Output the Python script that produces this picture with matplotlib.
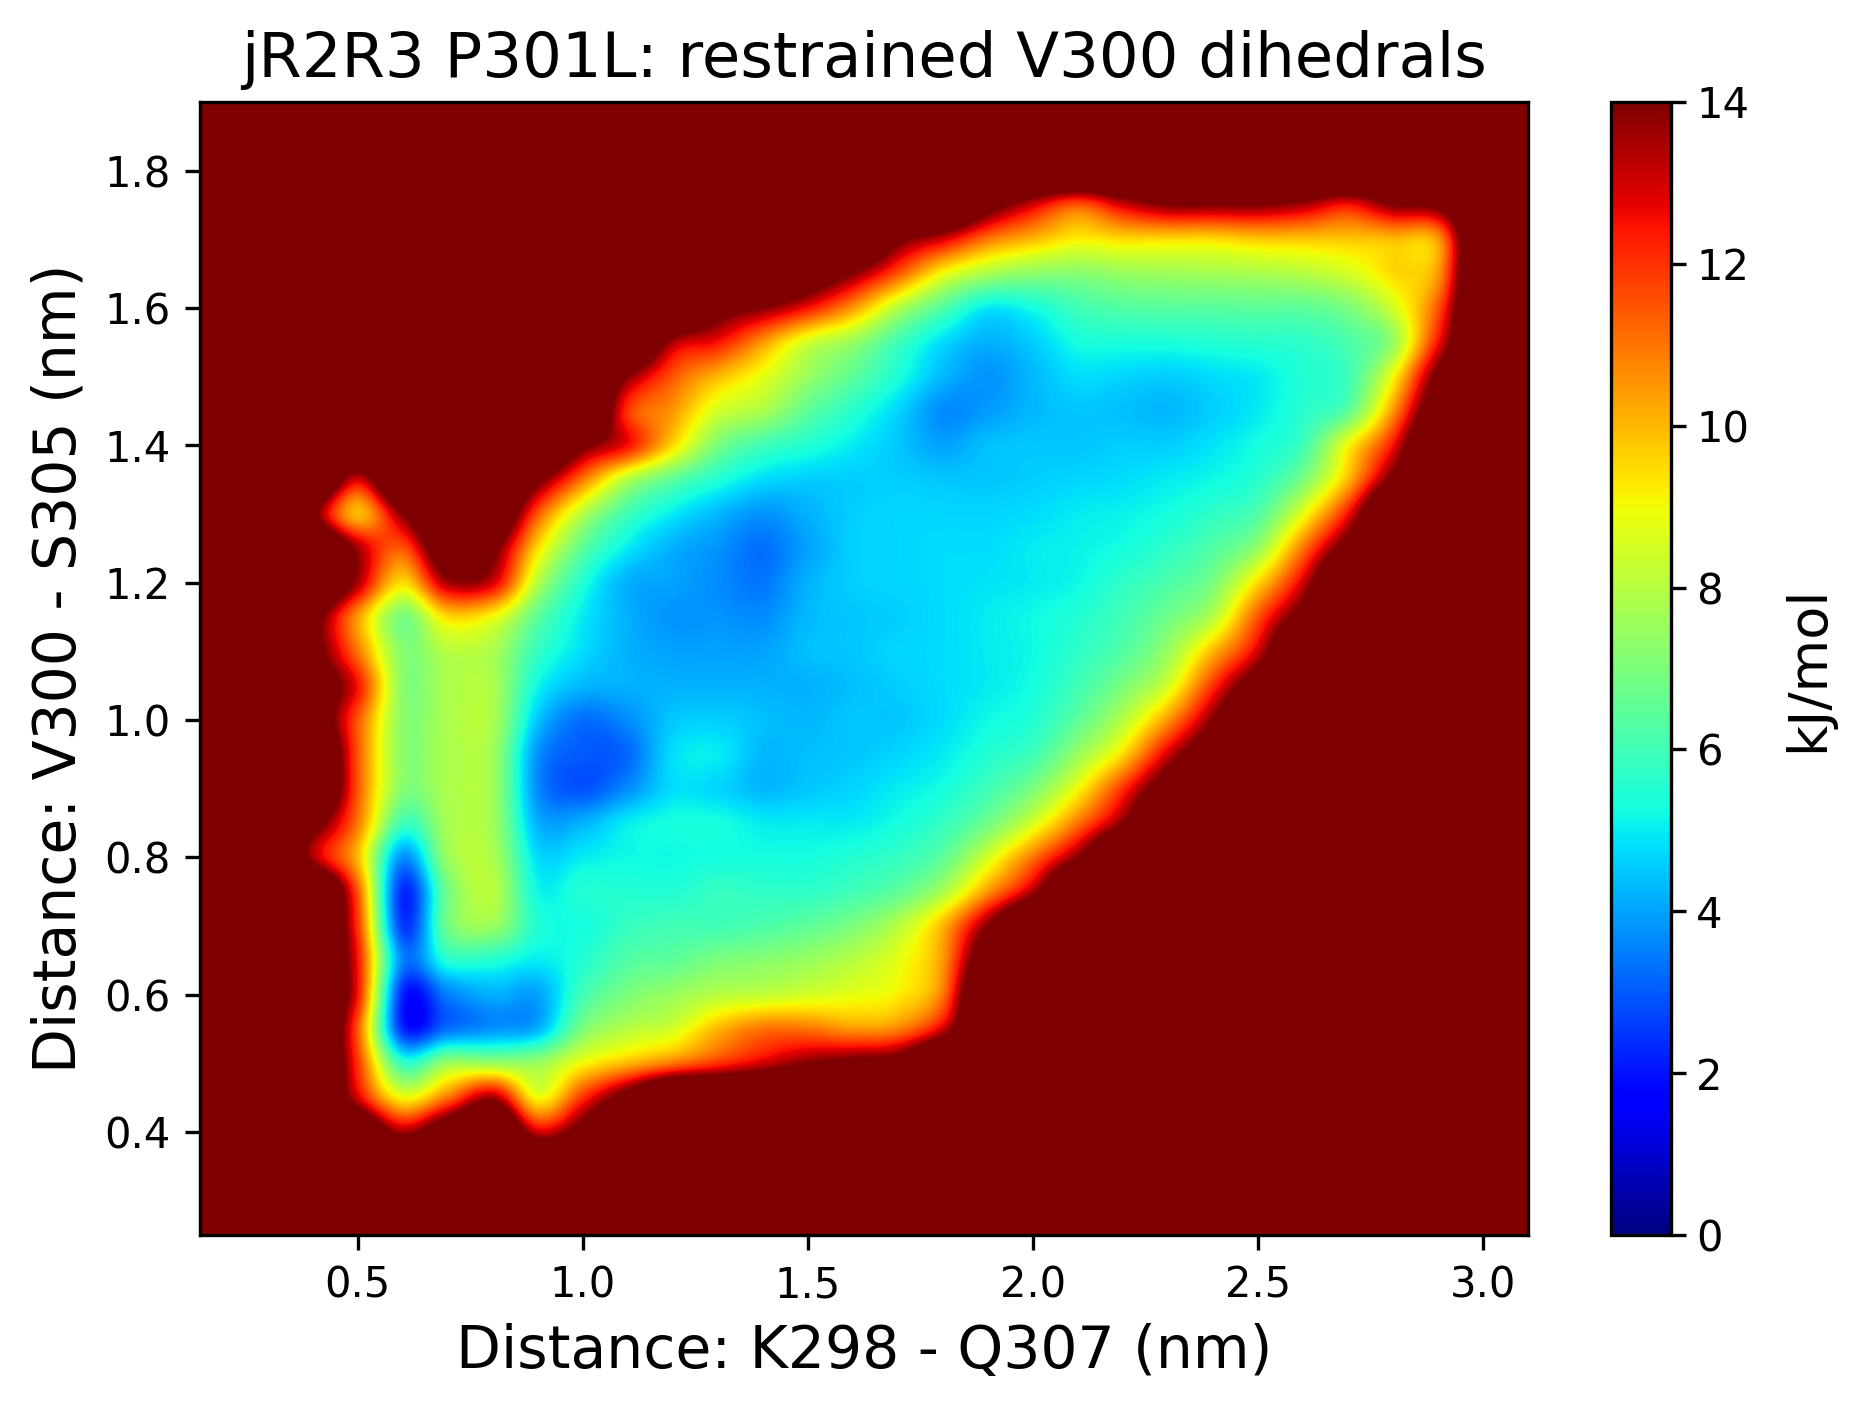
import numpy as np
import matplotlib
matplotlib.use("Agg")
import matplotlib.pyplot as plt

title = "jR2R3 P301L: restrained V300 dihedrals"
xlabel = "Distance: K298 - Q307 (nm)"
ylabel = "Distance: V300 - S305 (nm)"
cbar_label = "kJ/mol"
xticks = [0.5, 1.0, 1.5, 2.0, 2.5, 3.0]
yticks = [0.4, 0.6, 0.8, 1.0, 1.2, 1.4, 1.6, 1.8]
cticks = [0, 2, 4, 6, 8, 10, 12, 14]

X = 18  # unsampled
x_start, x_stop = 0.3, 3.0
y_start, y_stop = 0.35, 1.80
# columns x = 0.3 ... 3.0 (step 0.1); rows y = 0.35 ... 1.80 (step 0.05)
energy = [
[X,X,X,X,X,X,X,X,X,X,X,X,X,X,X,X,X,X,X,X,X,X,X,X,X,X,X,X],
[X,X,17,13.5,16,X,13,15,X,X,X,X,X,X,X,X,X,X,X,X,X,X,X,X,X,X,X,X],
[X,X,13,9,11,13.5,9,12,15,X,X,X,X,X,X,X,X,X,X,X,X,X,X,X,X,X,X,X],
[X,X,12,5.8,7.5,7.5,7.5,9,10,11,12,13,14,14.5,15,X,X,X,X,X,X,X,X,X,X,X,X,X],
[X,X,11.5,2.4,3.3,3.8,4.2,7,8,8.5,10,11,11,10.5,10.8,13,X,X,X,X,X,X,X,X,X,X,X,X],
[X,X,12.5,2.3,3.5,4.2,4,6,7,7.5,8,8.2,8.5,8.8,9.2,11,X,X,X,X,X,X,X,X,X,X,X,X],
[X,X,12.5,3.6,5.5,5.5,5,5.5,6.3,6.5,7,7.2,7.5,8,8.8,10.5,16,X,X,X,X,X,X,X,X,X,X,X],
[X,X,12,2.6,6.8,7.5,5.5,5.3,5.8,6,6,6.2,6.5,7,8,10,14,X,X,X,X,X,X,X,X,X,X,X],
[X,X,11.5,2.4,6.8,8,5.2,5.5,5.5,5.5,5.8,5.7,5.7,6,6.5,7.8,10.5,13.5,X,X,X,X,X,X,X,X,X,X],
[X,13.5,10,3.8,7.5,7.8,4.8,5,5.2,5.2,5.3,5.3,5.3,5.5,5.8,6.5,8.5,11,14,X,X,X,X,X,X,X,X,X],
[X,15,11,6,7.7,7.6,4.2,4.2,5,5.3,5.3,5,5,5,5.3,5.8,6.8,8.5,11,14,X,X,X,X,X,X,X,X],
[X,X,11.5,7.2,7.8,7.6,3.7,2.9,3.7,4.8,4.7,4.3,4.5,4.7,5,5.3,6,7,9,12,15.5,X,X,X,X,X,X,X],
[X,X,11.5,7.3,7.8,7.6,3.8,3,3.2,4.8,5,4.3,4.4,4.5,4.7,5,5.5,6,7.5,9.5,13,16,X,X,X,X,X,X],
[X,16,11.5,7.3,7.8,7.8,4.5,3.3,3.7,4.5,4.6,4.4,4.3,4.5,4.5,4.8,5.2,5.5,6.5,8,10.5,14,X,X,X,X,X,X],
[X,16,12.5,7.3,7.8,7.8,5.2,4.3,4.2,4.2,4.2,4.2,4.2,4.4,4.6,4.8,5,5.3,6,7,8.5,12,15.5,X,X,X,X,X],
[X,15,11,7.2,8,7.8,5.8,4.8,4.2,4,4,4,4.4,4.5,4.7,4.8,5,5.2,5.7,6.3,7.5,10,13,X,X,X,X,X],
[X,15,10.5,7,9.5,9,6.5,5,4.2,3.8,3.8,3.7,4.3,4.5,4.6,4.8,5,5.2,5.5,6,6.8,8,11.5,15,X,X,X,X],
[X,X,13.5,9.5,13.5,13,8,5.5,4.2,4,3.7,3.4,4.2,4.6,4.7,4.8,4.9,5,5.2,5.7,6.2,7,9.5,13,X,X,X,X],
[X,X,13.5,11.5,16,14.5,9.5,6.5,5,4.2,3.8,3.3,4,4.6,4.7,4.8,4.8,5,5.1,5.3,5.7,6.3,7.5,11,15,X,X,X],
[X,14.5,10,14,X,17,11.5,8,6,5,4.3,3.8,4.2,4.6,4.7,4.7,4.7,4.8,5,5.1,5.3,5.7,6.3,8.8,12.5,X,X,X],
[X,X,13,X,X,X,14.5,11,8,6.5,5.5,4.8,4.6,4.6,4.6,4.5,4.5,4.6,4.7,4.8,5,5.2,5.6,7,10,14.5,X,X],
[X,X,X,X,X,X,X,14.5,12.5,9.5,7,6,5.5,5,4.5,4,4.4,4.5,4.5,4.6,4.6,4.9,5.3,6,9,12.5,X,X],
[X,X,X,X,X,X,X,X,12,10.5,8.5,7.8,6.5,5.6,4.7,3.7,3.9,4.3,4.5,4.4,4.3,4.6,5,5.6,6.5,10.5,16,X],
[X,X,X,X,X,X,X,X,14,11.5,10,8.8,7.5,6.5,5.4,4.3,3.8,4.3,4.8,4.7,4.6,4.8,5,5.5,6,9,14.5,X],
[X,X,X,X,X,X,X,X,X,13.5,12.5,10.5,8.5,7.5,6,4.8,4.2,4.6,5.3,5.4,5.4,5.5,5.6,5.7,6.2,7.5,12.5,X],
[X,X,X,X,X,X,X,X,X,X,15,14,12.5,10.5,8,6.3,5,5.3,6,6.3,6.4,6.4,6.5,6.5,7,8.5,11.5,X],
[X,X,X,X,X,X,X,X,X,X,X,X,16,14,11.5,9,7.8,7.3,7.2,7.5,7.6,7.7,7.8,8,8.5,9.5,10.5,X],
[X,X,X,X,X,X,X,X,X,X,X,X,X,X,14.5,13,11,10,9.2,9.5,9.5,9.5,9.8,9.8,9.8,10,10.5,X],
[X,X,X,X,X,X,X,X,X,X,X,X,X,X,X,X,15,13,11.5,13,14,14,14,13.5,12.5,14,14.5,X],
[X,X,X,X,X,X,X,X,X,X,X,X,X,X,X,X,X,X,X,X,X,X,X,X,X,X,X,X],
]

plt.rcParams["font.family"] = "DejaVu Sans"
W, H = 1865, 1408
fig = plt.figure(figsize=(W / 300, H / 300), dpi=300)
L, R, T, B = 200, 1528, 102, 1235
ax = fig.add_axes([L / W, 1 - B / H, (R - L) / W, (B - T) / H])
cax = fig.add_axes([1611 / W, 1 - B / H, 60 / W, (B - T) / H])

cmap = plt.get_cmap("jet")
Z = np.array(energy, dtype=float)
dx = 0.05
dy = 0.025
im = ax.imshow(Z, origin="lower", cmap=cmap, vmin=0, vmax=14, aspect="auto",
               interpolation="catrom",
               extent=[x_start - dx, x_stop + dx, y_start - dy, y_stop + dy])
ax.set_facecolor(cmap(1.0))
ax.set_xlim(0.15, 3.1)
ax.set_ylim(0.25, 1.9)
ax.set_xticks(xticks)
ax.set_yticks(yticks)
ax.tick_params(labelsize=10, length=3.5, width=0.8)
ax.set_xlabel(xlabel, fontsize=14, labelpad=4)
ax.set_ylabel(ylabel, fontsize=14, labelpad=4)
ax.set_title(title, fontsize=15, pad=6)

cb = fig.colorbar(im, cax=cax, ticks=cticks)
cb.ax.tick_params(labelsize=10, length=3.5, width=0.8, pad=2.5)
cb.set_label(cbar_label, fontsize=13, labelpad=8)

fig.savefig("out.png", dpi=300)
